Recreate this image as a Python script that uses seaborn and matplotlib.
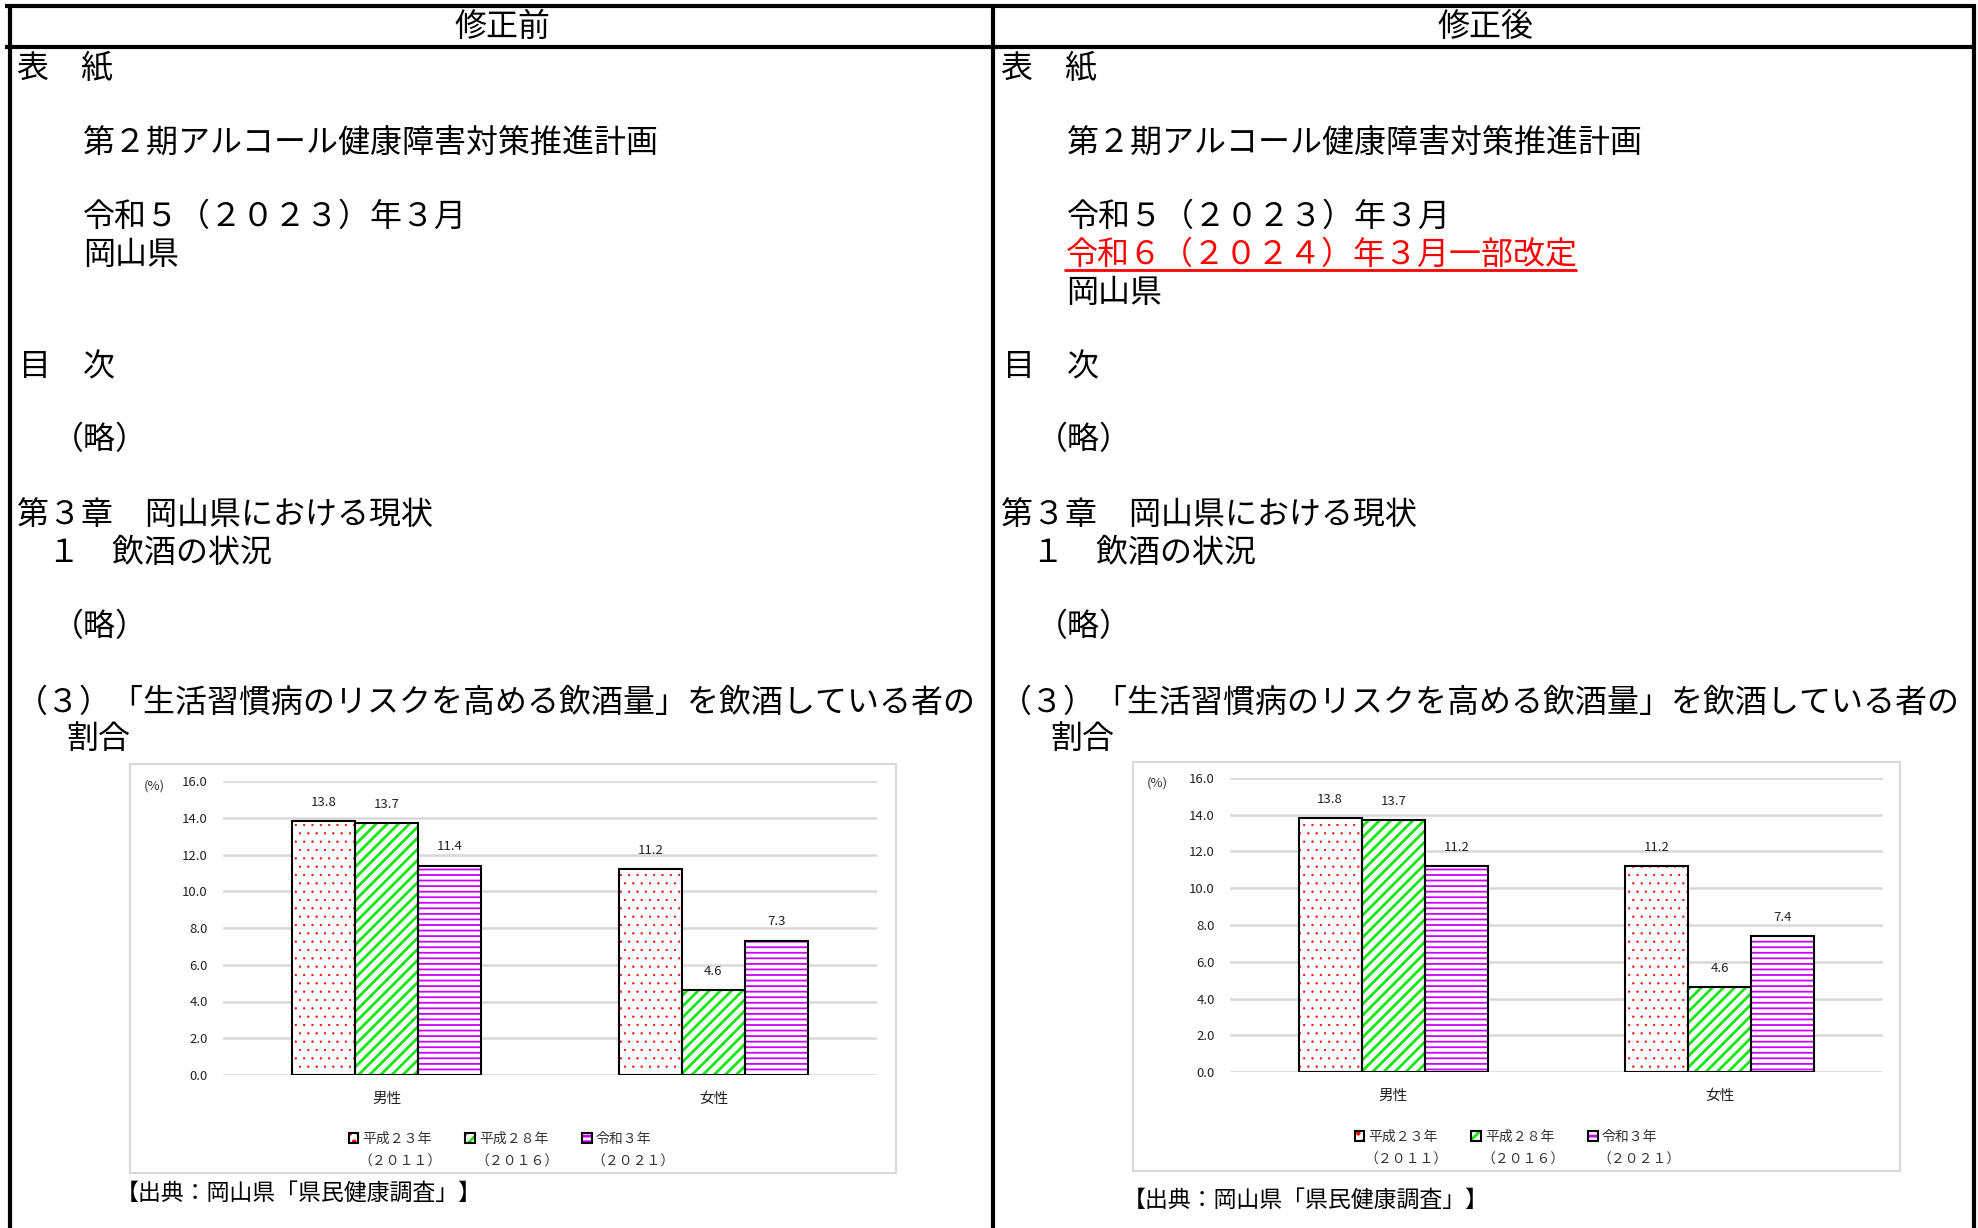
import matplotlib
matplotlib.use('Agg')
import matplotlib.pyplot as plt
import seaborn as sns
import pandas as pd
from matplotlib.lines import Line2D
from matplotlib.patches import Rectangle, Patch
from matplotlib.legend_handler import HandlerTuple

sns.set_style('white')
plt.rcParams['font.family'] = ['Noto Sans CJK JP', 'DejaVu Sans']
plt.rcParams['hatch.linewidth'] = 2.0

# ---- data ----
sexes = ['男性', '女性']
years = ['平成２３年', '平成２８年', '令和３年']
years_ad = ['（２０１１）', '（２０１６）', '（２０２１）']
before_male = [13.8, 13.7, 11.4]
before_female = [11.2, 4.6, 7.3]
after_male = [13.8, 13.7, 11.2]
after_female = [11.2, 4.6, 7.4]
yticks = [0, 2, 4, 6, 8, 10, 12, 14, 16]

pattern_colors = ['#FF0000', '#14E614', '#CC00FF']
hatches = ['..', '///', '---']
hatch_lw = [0.4, 2.0, 1.3]

W, H = 1978, 1228
fig = plt.figure(figsize=(W / 100, H / 100), dpi=100)


def fx(x):
    return x / W


def fy(y):
    return 1 - y / H


def line(x1, y1, x2, y2, color='black', lw=3.0):
    fig.add_artist(Line2D([fx(x1), fx(x2)], [fy(y1), fy(y2)],
                          transform=fig.transFigure, color=color, lw=lw,
                          solid_capstyle='butt'))


def txt(x, y, s, size=23, color='black', ha='left'):
    fig.text(fx(x), fy(y), s, fontsize=size, color=color, ha=ha, va='center')


# ---- table frame ----
line(5, 6, 1975, 6)
line(5, 47, 1975, 47)
line(10, 4, 10, 1228)
line(993, 4, 993, 1228)
line(1974, 4, 1974, 1228)

txt(502, 27, '修正前', ha='center')
txt(1485, 27, '修正後', ha='center')

# ---- body text ----
for off in [0, 984]:
    txt(17 + off, 69, '表　紙')
    txt(83 + off, 143, '第２期アルコール健康障害対策推進計画')
    txt(83 + off, 217, '令和５（２０２３）年３月')

txt(83, 255, '岡山県')
txt(1066, 255, '令和６（２０２４）年３月一部改定', color='#FF0000')
line(1064, 270, 1577, 270, color='#FF0000', lw=2.0)
txt(1066, 293, '岡山県')

for off in [0, 984]:
    txt(19 + off, 367, '目　次')
    txt(52 + off, 440, '（略）')
    txt(17 + off, 516, '第３章　岡山県における現状')
    txt(48 + off, 553, '１　飲酒の状況')
    txt(52 + off, 627, '（略）')
    txt(16 + off, 703, '（３）「生活習慣病のリスクを高める飲酒量」を飲酒している者の')
    txt(66 + off, 739, '割合')


# ---- charts ----
def draw_chart(male, female, box, axpos, pct_xy, leg_xy, caption_xy):
    bx0, by0, bx1, by1 = box
    fig.add_artist(Rectangle((fx(bx0), fy(by1)), fx(bx1) - fx(bx0), fy(by0) - fy(by1),
                             transform=fig.transFigure, fill=False,
                             edgecolor='#D9D9D9', lw=1.5))
    ax0, ay0, ax1, ay1 = axpos
    ax = fig.add_axes([fx(ax0), fy(ay1), fx(ax1) - fx(ax0), fy(ay0) - fy(ay1)])

    df = pd.DataFrame({
        'sex': sexes * 3,
        'year': [y for y in years for _ in sexes],
        'value': [v for pair in zip(male, female) for v in pair],
    })
    sns.barplot(data=df, x='sex', y='value', hue='year', order=sexes,
                hue_order=years, width=0.58, ax=ax, legend=False, saturation=1)

    for i, cont in enumerate(ax.containers):
        for bar in cont:
            bar.set_facecolor('white')
            bar.set_edgecolor(pattern_colors[i])
            bar.set_hatch(hatches[i])
            bar.set_linewidth(0)
            if hasattr(bar, 'set_hatch_linewidth'):
                bar.set_hatch_linewidth(hatch_lw[i])
            ax.add_patch(Rectangle(bar.get_xy(), bar.get_width(), bar.get_height(),
                                   fill=False, edgecolor='black', lw=1.5, zorder=3))
        ax.bar_label(cont, fmt='%.1f', padding=9, fontsize=9.5, color='#222222')

    ax.set_ylim(0, 16)
    ax.set_yticks(yticks)
    ax.set_yticklabels([f'{v:.1f}' for v in yticks])
    ax.yaxis.grid(True, color='#D9D9D9', lw=1.8)
    ax.set_axisbelow(True)
    for s in ax.spines.values():
        s.set_visible(False)
    ax.tick_params(axis='both', length=0, labelsize=9.5, colors='#222222')
    ax.tick_params(axis='y', pad=11)
    ax.tick_params(axis='x', pad=12, labelsize=10.5)
    ax.set_xlabel('')
    ax.set_ylabel('')

    txt(pct_xy[0], pct_xy[1], '(%)', size=9.5, color='#333333', ha='center')

    handles = []
    for i in range(3):
        handles.append((Patch(facecolor='white', edgecolor=pattern_colors[i],
                              hatch=hatches[i], lw=0),
                        Patch(fill=False, edgecolor='black', lw=1.5)))
    leg = fig.legend(handles, years, loc='upper center',
                     bbox_to_anchor=(fx(leg_xy[0]), fy(leg_xy[1])),
                     ncol=3, frameon=False, fontsize=10,
                     handlelength=0.7, handleheight=0.7, handletextpad=0.3,
                     columnspacing=2.4,
                     handler_map={tuple: HandlerTuple(ndivide=1)})
    for t in leg.get_texts():
        t.set_color('#333333')

    txt(caption_xy[0], caption_xy[1], '【出典：岡山県「県民健康調査」】', size=16.5)
    return leg


leg_l = draw_chart(before_male, before_female,
                   (130, 764, 896, 1173), (223, 781, 877, 1075),
                   (154, 786), (500, 1119), (116, 1193))
leg_r = draw_chart(after_male, after_female,
                   (1133, 762, 1900, 1171), (1230, 778, 1883, 1072),
                   (1157, 783), (1506, 1117), (1123, 1200))

# second legend line (western year) under each legend label
fig.canvas.draw()
for leg in [leg_l, leg_r]:
    for t, ad in zip(leg.get_texts(), years_ad):
        bb = t.get_window_extent()
        fig.text(bb.x0 - 4, (bb.y0 + bb.y1) / 2 - 23, ad, transform=None,
                 fontsize=10, color='#333333', ha='left', va='center')

fig.savefig('out.png', dpi=100)
